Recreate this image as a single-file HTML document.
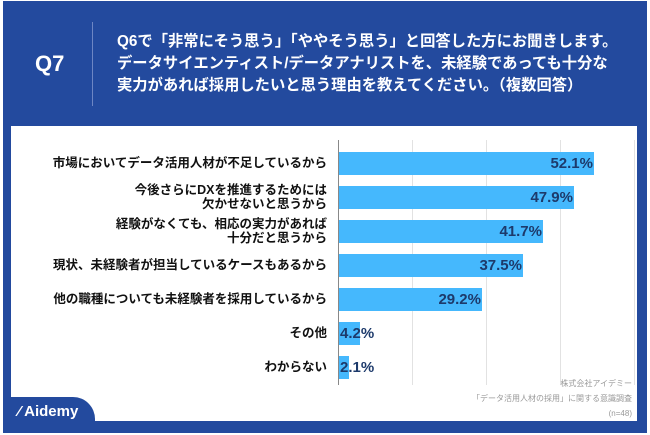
<!DOCTYPE html>
<html><head><meta charset="utf-8"><style>
body{margin:0;width:650px;height:435px;background:#fff;position:relative;overflow:hidden;font-family:"Liberation Sans","Noto Sans CJK JP",sans-serif}
.frame{position:absolute;left:3px;top:1px;width:644px;height:432px;background:#234a9e}
.panel{position:absolute;left:11px;top:126px;width:626px;height:295px;background:#fff}
.q7{position:absolute;left:35px;top:51px;color:#fff;font-weight:bold;font-size:22px}
.div{position:absolute;left:92px;top:22px;width:1px;height:84px;background:#6d86c4}
.ttl{position:absolute;left:117px;top:31px;color:#fff;font-weight:bold;font-size:15.3px;line-height:22px;white-space:nowrap}
.lbl{position:absolute;right:323px;font-weight:bold;font-size:12.5px;line-height:14px;text-align:right;color:#111;white-space:nowrap}
.bar{position:absolute;left:339px;height:23px;background:#45b8fd}
.val{position:absolute;font-weight:bold;font-size:15px;color:#1d3a6b;line-height:23px}
.g{position:absolute;top:140px;height:245px;width:1px;background:#e2e2e2}
.src{position:absolute;right:18px;color:#999;font-size:8px;text-align:right;line-height:15px;top:376px}
.tab{position:absolute;left:3px;top:397px;width:92px;height:36px;background:#234a9e;border-top-right-radius:22px}
.ai{position:absolute;left:18px;top:403px;color:#fff;font-weight:bold;font-size:15px}
</style></head><body>
<div class="frame"></div>
<div class="panel"></div>
<div class="q7">Q7</div>
<div class="div"></div>
<div class="ttl">Q6で「非常にそう思う」「ややそう思う」と回答した方にお聞きします。<br>データサイエンティスト/データアナリストを、未経験であっても十分な<br>実力があれば採用したいと思う理由を教えてください。（複数回答）</div>
<div class="g" style="left:412px"></div><div class="g" style="left:486px"></div><div class="g" style="left:560px"></div><div class="g" style="left:634px"></div>
<div class="g" style="left:338px;background:#888"></div>

<div class="lbl" style="top:156px">市場においてデータ活用人材が不足しているから</div>
<div class="lbl" style="top:183px">今後さらにDXを推進するためには<br>欠かせないと思うから</div>
<div class="lbl" style="top:217px">経験がなくても、相応の実力があれば<br>十分だと思うから</div>
<div class="lbl" style="top:258px">現状、未経験者が担当しているケースもあるから</div>
<div class="lbl" style="top:292px">他の職種についても未経験者を採用しているから</div>
<div class="lbl" style="top:326px">その他</div>
<div class="lbl" style="top:360px">わからない</div>

<div class="bar" style="top:152px;width:255px"></div><div class="val" style="top:152px;right:57px">52.1%</div>
<div class="bar" style="top:186px;width:235px"></div><div class="val" style="top:186px;right:77px">47.9%</div>
<div class="bar" style="top:220px;width:204px"></div><div class="val" style="top:220px;right:108px">41.7%</div>
<div class="bar" style="top:254px;width:184px"></div><div class="val" style="top:254px;right:128px">37.5%</div>
<div class="bar" style="top:288px;width:143px"></div><div class="val" style="top:288px;right:169px">29.2%</div>
<div class="bar" style="top:322px;width:21px"></div><div class="val" style="top:322px;left:340px">4.2%</div>
<div class="bar" style="top:356px;width:10px"></div><div class="val" style="top:356px;left:340px">2.1%</div>

<div class="src">株式会社アイデミー<br>「データ活用人材の採用」に関する意識調査<br>(n=48)</div>
<div class="tab"></div>
<div class="ai">⁄ Aidemy</div>
</body></html>
